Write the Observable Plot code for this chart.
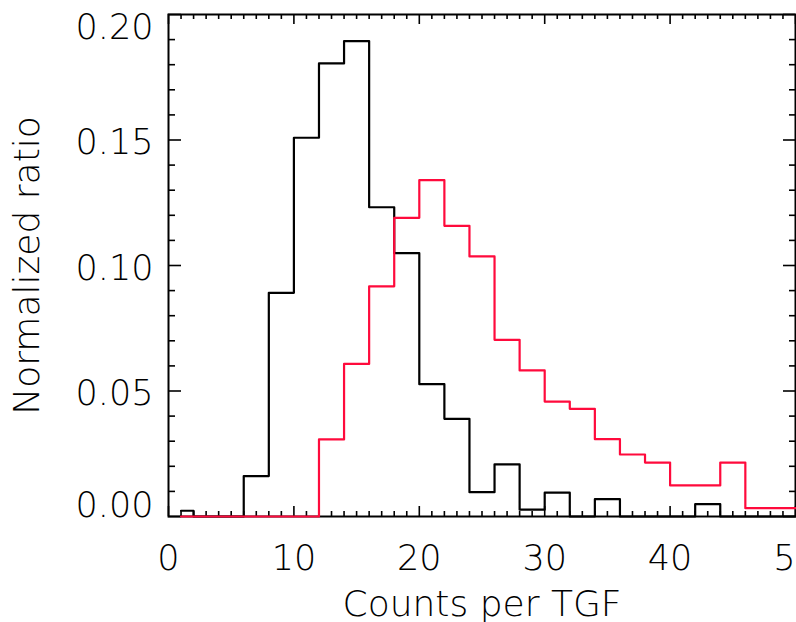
<!DOCTYPE html>
<html>
<head>
<meta charset="utf-8">
<script src="https://cdn.jsdelivr.net/npm/d3@7"></script>
<script src="https://cdn.jsdelivr.net/npm/@observablehq/plot@0.6"></script>
<style>
  html, body { margin: 0; padding: 0; background: #fff; overflow: hidden; }
</style>
</head>
<body>
<div id="chart"></div>
<script>
// Bin centres (bin width 2) of the histograms, drawn as IDL-style steps
const binCenters = [1, 3, 5, 7, 9, 11, 13, 15, 17, 19, 21, 23, 25, 27, 29, 31, 33, 35, 37, 39, 41, 43, 45, 47, 49, 51];
// Black histogram (normalized ratio)
const blackRatio = [0.0023, 0, 0, 0.0161, 0.0891, 0.1509, 0.1805, 0.1894, 0.1232, 0.1049, 0.0527, 0.0389, 0.0097, 0.0208, 0.0027, 0.0095, 0, 0.0069, 0, 0, 0, 0.0049, 0, 0, 0, 0];
// Red histogram (normalized ratio)
const redRatio = [0, 0, 0, 0, 0, 0, 0.0307, 0.0608, 0.0917, 0.1190, 0.1340, 0.1158, 0.1036, 0.0704, 0.0582, 0.0458, 0.0429, 0.0308, 0.0247, 0.0215, 0.0124, 0.0124, 0.0215, 0.0033, 0.0033, 0.0033];

// Axis ticks
const xMajorTicks = [0, 10, 20, 30, 40, 50];
const xTickLabels = ["0", "10", "20", "30", "40", "50"];
const yMajorTicks = [0, 0.05, 0.10, 0.15, 0.20];
const yTickLabels = ["0.00", "0.05", "0.10", "0.15", "0.20"];
const xMinorTicks = d3.range(0, 51, 1).filter(v => v % 10 !== 0);
const yMinorTicks = d3.range(1, 20).filter(i => i % 5 !== 0).map(i => i / 100);

const xTitle = "Counts per TGF";
const yTitle = "Normalized ratio";

const blackData = binCenters.map((x, i) => ({x, y: blackRatio[i]}));
const redData = binCenters.map((x, i) => ({x, y: redRatio[i]}));
const xTickData = xMajorTicks.map((v, i) => ({v, label: xTickLabels[i]}));
const yTickData = yMajorTicks.map((v, i) => ({v, label: yTickLabels[i]}));

const W = 796, H = 622;
const mL = 168, mR = 1, mT = 14, mB = 106;
const pw = W - mL - mR, ph = H - mT - mB;
const FONT = "'DejaVu Sans', sans-serif";
const FW = 200;
const TICK_FS = 35, TITLE_FS = 36;
const RED = "#ff0a3c";

const chart = Plot.plot({
  width: W, height: H,
  marginLeft: mL, marginRight: mR, marginTop: mT, marginBottom: mB,
  style: {fontFamily: FONT, background: "#fff", color: "#000"},
  x: {domain: [0, 50], axis: null},
  y: {domain: [0, 0.2], axis: null},
  marks: [
    // ticks (inward) bottom and top
    Plot.ruleX(xMajorTicks, {x: d => d, insetTop: ph - 10, stroke: "#000", strokeWidth: 1.6}),
    Plot.ruleX(xMinorTicks, {x: d => d, insetTop: ph - 5, stroke: "#000", strokeWidth: 1.6}),
    Plot.ruleX(xMajorTicks, {x: d => d, insetBottom: ph - 10, stroke: "#000", strokeWidth: 1.6}),
    Plot.ruleX(xMinorTicks, {x: d => d, insetBottom: ph - 5, stroke: "#000", strokeWidth: 1.6}),
    // ticks (inward) left and right
    Plot.ruleY(yMajorTicks, {y: d => d, insetRight: pw - 13, stroke: "#000", strokeWidth: 1.6}),
    Plot.ruleY(yMinorTicks, {y: d => d, insetRight: pw - 7, stroke: "#000", strokeWidth: 1.6}),
    Plot.ruleY(yMajorTicks, {y: d => d, insetLeft: pw - 12, stroke: "#000", strokeWidth: 1.6}),
    Plot.ruleY(yMinorTicks, {y: d => d, insetLeft: pw - 6, stroke: "#000", strokeWidth: 1.6}),
    Plot.frame({stroke: "#000", strokeWidth: 2}),
    // histograms
    Plot.line(blackData, {x: "x", y: "y", curve: "step", stroke: "#000", strokeWidth: 2.2}),
    Plot.line(redData, {x: "x", y: "y", curve: "step", stroke: RED, strokeWidth: 2.2}),
    // x tick labels
    Plot.text(xTickData, {x: "v", text: "label", frameAnchor: "bottom", dy: 29, lineAnchor: "top",
      fontSize: TICK_FS, fontWeight: FW, fill: "#000"}),
    // y tick labels (extremes kept inside the frame, as in the reference)
    Plot.text(yTickData.filter(d => d.v === 0.2), {y: "v", text: "label", frameAnchor: "left", dx: -15,
      textAnchor: "end", lineAnchor: "top", fontSize: TICK_FS, fontWeight: FW, fill: "#000"}),
    Plot.text(yTickData.filter(d => d.v === 0), {y: "v", text: "label", frameAnchor: "left", dx: -15,
      textAnchor: "end", lineAnchor: "bottom", fontSize: TICK_FS, fontWeight: FW, fill: "#000"}),
    Plot.text(yTickData.filter(d => d.v > 0 && d.v < 0.2), {y: "v", text: "label", frameAnchor: "left", dx: -15, dy: 3,
      textAnchor: "end", lineAnchor: "middle", fontSize: TICK_FS, fontWeight: FW, fill: "#000"}),
    // axis titles
    Plot.text([xTitle], {frameAnchor: "bottom", dy: 99, lineAnchor: "bottom", textAnchor: "middle",
      fontSize: TITLE_FS, fontWeight: FW, fill: "#000"}),
    Plot.text([yTitle], {frameAnchor: "left", dx: -141, rotate: -90, lineAnchor: "middle", textAnchor: "middle",
      fontSize: TITLE_FS, fontWeight: FW, fill: "#000"})
  ]
});
document.getElementById("chart").appendChild(chart);
</script>
</body>
</html>
